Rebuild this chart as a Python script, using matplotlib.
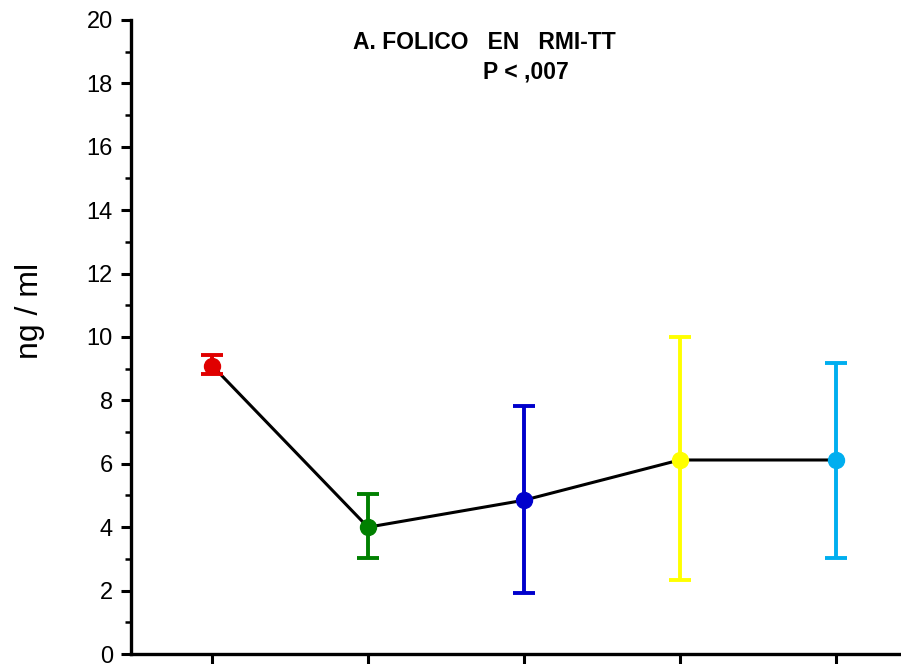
import matplotlib.pyplot as plt
from matplotlib.ticker import MultipleLocator

plt.rcParams['font.family'] = ['Liberation Sans', 'DejaVu Sans']

# folic acid means per group, with lower / upper error limits
groups = [1, 2, 3, 4, 5]
means = [9.1, 4.0, 4.85, 6.12, 6.12]
lower = [8.82, 3.02, 1.92, 2.35, 3.02]
upper = [9.42, 5.05, 7.82, 10.0, 9.18]
colors = ['#e00000', '#008000', '#0000cc', '#ffff00', '#00aeef']

fig = plt.figure(figsize=(9.01, 6.64), dpi=100)
ax = fig.add_axes([0.1454, 0.01506, 0.8546, 0.95484])

ax.plot(groups, means, color='black', lw=2.2, zorder=2)
for x, m, lo, hi, c in zip(groups, means, lower, upper, colors):
    ax.errorbar(x, m, yerr=[[m - lo], [hi - m]], fmt='o', color=c,
                ms=11.5, elinewidth=2.8, capsize=8, capthick=2.8, zorder=3)

ax.set_xlim(0.48, 5.42)
ax.set_ylim(0, 20)
ax.set_xticks(groups)
ax.set_xticklabels([])
ax.yaxis.set_major_locator(MultipleLocator(2))
ax.yaxis.set_minor_locator(MultipleLocator(1))
ax.tick_params(axis='both', which='major', direction='out', length=7, width=2.2,
               labelsize=17)
ax.tick_params(axis='y', which='minor', direction='out', length=4, width=1.8)
ax.tick_params(axis='y', pad=6)
for s in ['top', 'right']:
    ax.spines[s].set_visible(False)
for s in ['left', 'bottom']:
    ax.spines[s].set_linewidth(2.4)

ax.set_ylabel('ng / ml', fontsize=23)
ax.yaxis.set_label_coords(-0.112, 0.541)

fig.text(0.538, 0.936, 'A. FOLICO   EN   RMI-TT', ha='center', va='center',
         fontsize=16.5, fontweight='bold')
fig.text(0.584, 0.891, 'P < ,007', ha='center', va='center',
         fontsize=16.5, fontweight='bold')

fig.savefig('out.png', dpi=100)
